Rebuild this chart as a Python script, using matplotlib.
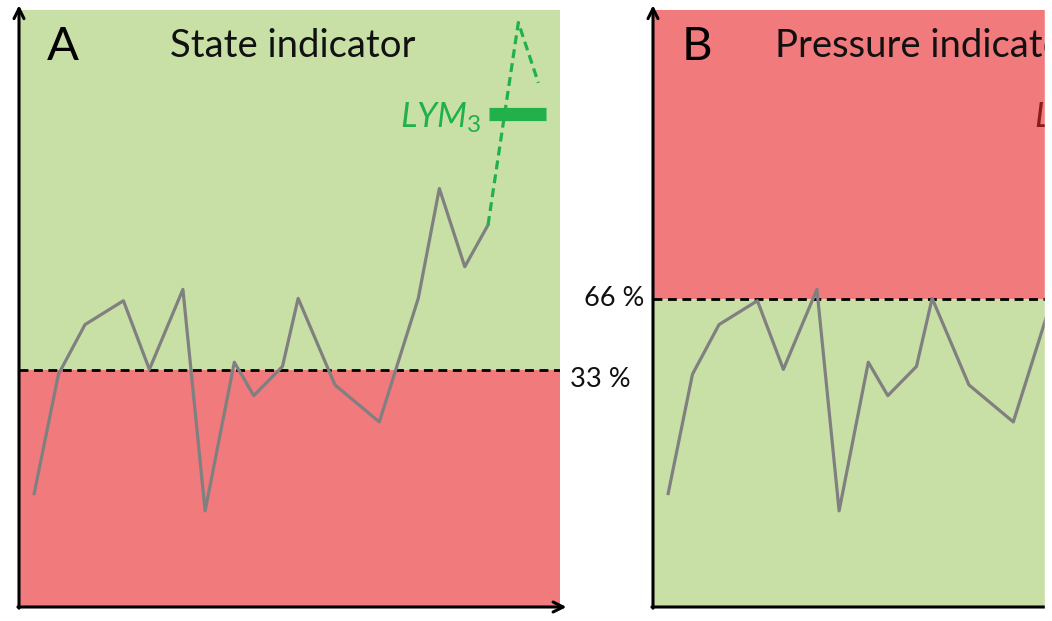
import matplotlib
matplotlib.use('Agg')
import matplotlib.pyplot as plt
from matplotlib.patches import Rectangle

plt.rcParams['font.family'] = ['Lato', 'DejaVu Sans']
plt.rcParams['mathtext.fontset'] = 'custom'
plt.rcParams['mathtext.it'] = 'Lato:italic'
plt.rcParams['mathtext.rm'] = 'Lato'

# indicator time series (same series shown against both reference levels)
t = [2.8, 7.3, 12.2, 19.3, 24.1, 30.3, 34.4, 39.8, 43.4, 48.7, 51.6, 58.4,
     66.6, 73.8, 77.7, 82.4, 86.7]
values = [19.0, 39.0, 47.3, 51.3, 39.8, 53.2, 16.1, 41.0, 35.4, 40.3, 51.7,
          37.2, 31.0, 51.7, 70.1, 57.0, 64.0]
# projected continuation
t_proj = [86.7, 92.3, 96.0]
values_proj = [64.0, 97.9, 87.8]
# limit bar
lym_x = [86.9, 97.4]
lym_y = 82.5

panels = ['A', 'B']
titles = ['State indicator', 'Pressure indicator']
thresholds = [39.7, 51.6]
threshold_labels = ['33 %', '66 %']

green = '#c8e0a6'
red = '#f17a7c'
proj_colors = ['#22b04b', '#8b1c1c']

fig = plt.figure(figsize=(10.52, 6.21), dpi=100)
W, H = 1052, 621
lefts = [19, 653]

for i in range(2):
    ax = fig.add_axes([lefts[i] / W, 14 / H, 541 / W, 597 / H])
    ax.set_xlim(0, 100)
    ax.set_ylim(0, 100)
    ax.axis('off')
    thr = thresholds[i]
    lower, upper = (red, green) if i == 0 else (green, red)
    ax.axhspan(0, thr, color=lower, lw=0, zorder=0)
    ax.axhspan(thr, 100, color=upper, lw=0, zorder=0)
    ax.axhline(thr, color='black', ls=(0, (3.2, 2.0)), lw=2.0, zorder=2)

    ax.plot(t, values, color='#808080', lw=2.3, zorder=3)
    ax.plot(t_proj, values_proj, color=proj_colors[i], lw=2.3,
            ls=(0, (2.8, 1.6)), zorder=3)
    ax.plot(lym_x, [lym_y, lym_y], color=proj_colors[i], lw=9.5,
            solid_capstyle='butt', zorder=4)
    ax.text(0.7045, 0.803, r'$LYM_{\mathrm{3}}$', transform=ax.transAxes,
            ha='left', va='baseline', fontsize=25, color=proj_colors[i])

    # axis arrows
    ax.annotate('', xy=(0, 1.008), xytext=(0, -0.002), xycoords='axes fraction',
                arrowprops=dict(arrowstyle='->', lw=2.2, color='black',
                                mutation_scale=18, shrinkA=0, shrinkB=0))
    ax.annotate('', xy=(1.012, 0), xytext=(-0.002, 0), xycoords='axes fraction',
                arrowprops=dict(arrowstyle='->', lw=2.2, color='black',
                                mutation_scale=18, shrinkA=0, shrinkB=0))

    ax.text(0.052, 0.916, panels[i], transform=ax.transAxes, ha='left',
            va='baseline', fontsize=34, color='black')
    ax.text(0.505, 0.921, titles[i], transform=ax.transAxes, ha='center',
            va='baseline', fontsize=27.5, color='#111111')

    if i == 0:
        ax.text(1.0185, 0.3685, threshold_labels[i], transform=ax.transAxes,
                ha='left', va='baseline', fontsize=19.5, color='#111111')
    else:
        ax.text(-0.016, 0.504, threshold_labels[i], transform=ax.transAxes,
                ha='right', va='baseline', fontsize=19.5, color='#111111')

fig.patches.append(Rectangle((1045 / W, 0), 1 - 1045 / W, 1,
                             transform=fig.transFigure, color='white',
                             zorder=10))

fig.savefig('out.png', dpi=100)
